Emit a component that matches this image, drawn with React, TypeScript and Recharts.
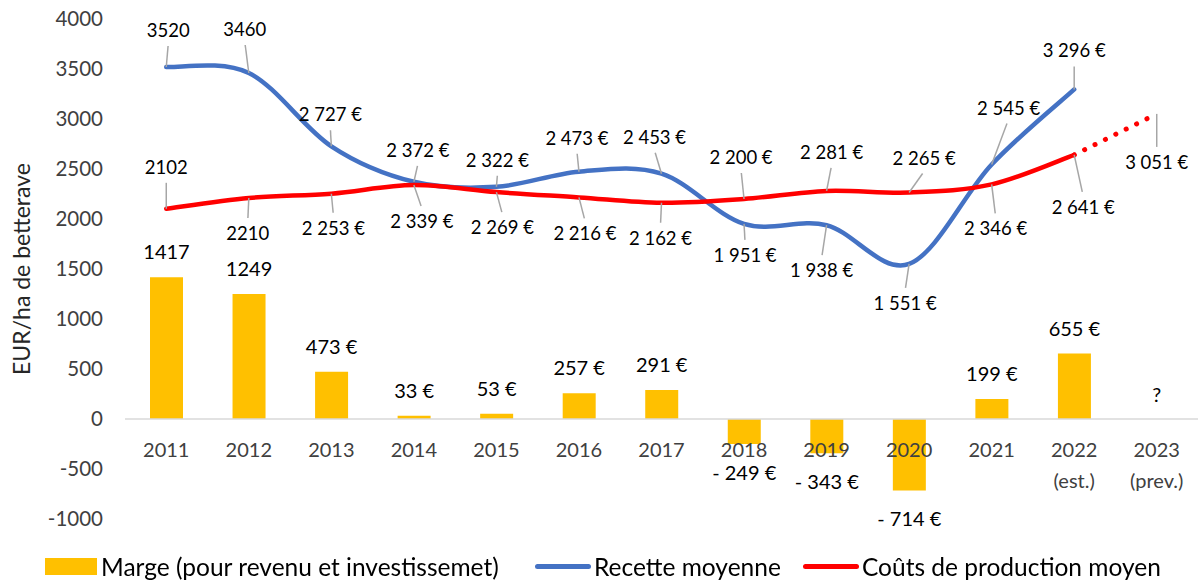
import React from 'react';
import {
  ComposedChart,
  Bar,
  Line,
  XAxis,
  YAxis,
  ReferenceLine,
  ReferenceDot,
  LabelList,
  Legend
} from 'recharts';

// categories
const years = ['2011', '2012', '2013', '2014', '2015', '2016', '2017', '2018', '2019', '2020', '2021', '2022 (est.)', '2023 (prev.)'];

// series names (legend order)
const seriesNames = ['Marge (pour revenu et investissemet)', 'Recette moyenne', 'Coûts de production moyen'];

// margin bars
const marge = [1417, 1249, 473, 33, 53, 257, 291, -249, -343, -714, 199, 655, null];
const margeLabels = ['1417', '1249', '473 €', '33 €', '53 €', '257 €', '291 €', '- 249 €', '- 343 €', '- 714 €', '199 €', '655 €', '?'];

// average revenue
const recette = [3520, 3460, 2727, 2372, 2322, 2473, 2453, 1951, 1938, 1551, 2545, 3296, null];
const recetteLabels = ['3520', '3460', '2 727 €', '2 372 €', '2 322 €', '2 473 €', '2 453 €', '1 951 €', '1 938 €', '1 551 €', '2 545 €', '3 296 €', ''];

// average production cost (solid part + forecast)
const couts = [2102, 2210, 2253, 2339, 2269, 2216, 2162, 2200, 2281, 2265, 2346, 2641, null];
const coutsLabels = ['2102', '2210', '2 253 €', '2 339 €', '2 269 €', '2 216 €', '2 162 €', '2 200 €', '2 281 €', '2 265 €', '2 346 €', '2 641 €', ''];
const coutsPrev = [null, null, null, null, null, null, null, null, null, null, null, 2641, 3051];
const coutsPrevLabels = ['', '', '', '', '', '', '', '', '', '', '', '', '3 051 €'];

const yTicks = [-1000, -500, 0, 500, 1000, 1500, 2000, 2500, 3000, 3500, 4000];

// label placement (text centre relative to the point)
const recetteOffsets = [[2, -37], [-4, -44], [-1, -32], [4, -32], [1, -27], [-2, -34], [-7, -37], [1, 31], [-5, 45], [-4, 39], [17, -57], [0, -39], [0, 0]];
const coutsOffsets = [[0, -42], [-1, 35], [2, 34], [8, 36], [6, 35], [6, 36], [-1, 35], [-3, -42], [5, -39], [15, -35], [4, 44], [9, 52], [0, 0]];
const prevOffsets = recetteOffsets.map(() => [0, 48]);

const data = years.map((year, i) => ({
  year,
  marge: marge[i],
  recette: recette[i],
  couts: couts[i],
  coutsPrev: coutsPrev[i]
}));

const FONT = 'Lato, "Noto Sans", sans-serif';
const legendLeft = [45, 535, 803];

// Excel-like smoothed line (Catmull-Rom through the points)
const excelSmooth = (context: any) => {
  let pts: number[][] = [];
  return {
    areaStart() {},
    areaEnd() {},
    lineStart() {
      pts = [];
    },
    point(x: number, y: number) {
      pts.push([+x, +y]);
    },
    lineEnd() {
      if (!pts.length) return;
      context.moveTo(pts[0][0], pts[0][1]);
      for (let i = 0; i < pts.length - 1; i++) {
        const p0 = pts[i - 1] || pts[i];
        const p1 = pts[i];
        const p2 = pts[i + 1];
        const p3 = pts[i + 2] || p2;
        context.bezierCurveTo(
          p1[0] + (p2[0] - p0[0]) / 6,
          p1[1] + (p2[1] - p0[1]) / 6,
          p2[0] - (p3[0] - p1[0]) / 6,
          p2[1] - (p3[1] - p1[1]) / 6,
          p2[0],
          p2[1]
        );
      }
    }
  };
};

function pointLabel(labels: string[], offsets: number[][]) {
  return (props: any) => {
    const { index } = props;
    const vb = props.viewBox || {};
    const x = props.x ?? vb.x;
    const y = props.y ?? vb.y;
    const text = labels[index];
    if (!text || x == null || y == null) return null;
    const [dx, dy] = offsets[index];
    const tx = x + dx;
    const ty = y + dy;
    const ly = dy < 0 ? ty + 16 : ty - 15;
    return (
      <g>
        <line x1={x} y1={y} x2={x + dx * 0.9} y2={ly} stroke="#A6A6A6" strokeWidth={1.5} />
        <text x={tx} y={ty} textAnchor="middle" dominantBaseline="central" fontFamily={FONT} fontSize={18.5} fill="#000">
          {text}
        </text>
      </g>
    );
  };
}

const barLabel = (props: any) => {
  const { index } = props;
  const vb = props.viewBox || props;
  const text = margeLabels[index];
  if (!text || vb.y == null) return null;
  const top = Math.min(vb.y, vb.y + (vb.height || 0));
  const bottom = Math.max(vb.y, vb.y + (vb.height || 0));
  const v = marge[index] ?? 0;
  const ty = v >= 0 ? top - 26 : bottom + 28;
  return (
    <text x={vb.x + (vb.width || 0) / 2} y={ty} textAnchor="middle" dominantBaseline="central" fontFamily={FONT} fontSize={20} fill="#000">
      {text}
    </text>
  );
};

const YearTick = (props: any) => {
  const { x, y, payload } = props;
  const [year, note] = String(payload.value).split(' ');
  return (
    <g>
      <text x={x} y={y - 70} textAnchor="middle" dominantBaseline="central" fontFamily={FONT} fontSize={20} fill="#404040">
        {year}
      </text>
      {note && (
        <text x={x} y={y - 39} textAnchor="middle" dominantBaseline="central" fontFamily={FONT} fontSize={20} fill="#404040">
          {note}
        </text>
      )}
    </g>
  );
};

const renderLegend = (props: any) => {
  const items = (props.payload || [])
    .filter((p: any) => seriesNames.includes(p.value))
    .sort((a: any, b: any) => seriesNames.indexOf(a.value) - seriesNames.indexOf(b.value));
  return (
    <div style={{ position: 'relative', height: 40, fontFamily: FONT, fontSize: 24.5, color: '#000' }}>
      {items.map((item: any, i: number) => (
        <div
          key={item.value}
          style={{ position: 'absolute', left: legendLeft[i], top: 14, height: 24, display: 'flex', alignItems: 'center', whiteSpace: 'nowrap' }}
        >
          {item.type === 'rect' ? (
            <span style={{ display: 'inline-block', width: 52, height: 17, background: item.color, marginRight: 4 }} />
          ) : (
            <span style={{ display: 'inline-block', width: 56, height: 5, borderRadius: 3, background: item.color, marginRight: 3 }} />
          )}
          <span>{item.value}</span>
        </div>
      ))}
    </div>
  );
};

export default function App() {
  return (
    <div style={{ position: 'fixed', top: 0, left: 0, background: '#fff' }}>
      <ComposedChart width={1198} height={580} data={data} margin={{ top: 19, right: 0, bottom: 0, left: 0 }}>
        <XAxis dataKey="year" axisLine={false} tickLine={false} tickSize={0} tickMargin={0} height={21} interval={0} tick={<YearTick />} />
        <YAxis
          domain={[-1000, 4000]}
          ticks={yTicks}
          width={125}
          axisLine={false}
          tickLine={false}
          tickSize={0}
          tickMargin={22}
          tick={{ fontFamily: FONT, fontSize: 20.5, fill: '#404040' }}
          label={{ value: 'EUR/ha de betterave', angle: -90, position: 'insideLeft', offset: 22, style: { textAnchor: 'middle', fontFamily: FONT, fontSize: 23, fill: '#262626' } }}
        />
        <ReferenceLine y={0} stroke="#D9D9D9" strokeWidth={1.5} />
        <Bar dataKey="marge" name={seriesNames[0]} fill="#FFC000" barSize={33} isAnimationActive={false}>
          <LabelList dataKey="marge" content={barLabel} />
        </Bar>
        <Line
          dataKey="recette"
          name={seriesNames[1]}
          type={excelSmooth as any}
          stroke="#4472C4"
          strokeWidth={4.5}
          strokeLinecap="round"
          dot={false}
          activeDot={false}
          isAnimationActive={false}
        >
          <LabelList dataKey="recette" content={pointLabel(recetteLabels, recetteOffsets)} />
        </Line>
        <Line
          dataKey="couts"
          name={seriesNames[2]}
          type={excelSmooth as any}
          stroke="#FF0000"
          strokeWidth={4.5}
          strokeLinecap="round"
          dot={false}
          activeDot={false}
          isAnimationActive={false}
        >
          <LabelList dataKey="couts" content={pointLabel(coutsLabels, coutsOffsets)} />
        </Line>
        <Line
          dataKey="coutsPrev"
          legendType="none"
          type="linear"
          stroke="#FF0000"
          strokeWidth={5}
          strokeLinecap="round"
          strokeDasharray="0.1 11.5"
          dot={false}
          activeDot={false}
          isAnimationActive={false}
        >
          <LabelList dataKey="coutsPrev" content={pointLabel(coutsPrevLabels, prevOffsets)} />
        </Line>
        <ReferenceDot
          x="2023 (prev.)"
          y={0}
          r={0}
          fill="none"
          stroke="none"
          label={(p: any) => (
            <text x={p.viewBox.x} y={p.viewBox.y - 25} textAnchor="middle" dominantBaseline="central" fontFamily={FONT} fontSize={20} fill="#000">
              {margeLabels[12]}
            </text>
          )}
        />
        <Legend verticalAlign="bottom" content={renderLegend} />
      </ComposedChart>
    </div>
  );
}
